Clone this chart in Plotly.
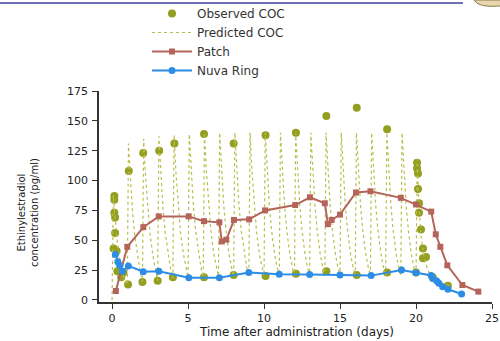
import plotly.graph_objects as go

# ---------------- data ----------------
obs_days = [0.1, 0.15, 0.15, 0.15, 0.2, 0.2, 0.3, 0.35, 0.6, 0.75,
            1.1, 1.05, 2.05, 2.0, 3.1, 3.0, 4.1, 4.0, 6.05, 6.05,
            8.0, 8.0, 10.1, 10.1, 12.1, 12.1, 14.1, 14.1, 16.1, 16.1,
            18.1, 18.1, 20.0, 20.07, 20.07, 20.13, 20.13, 20.2, 20.2, 20.33,
            20.46, 20.46, 20.66, 21.1, 22.1]
obs_conc = [43, 87, 84, 73, 69, 56, 41, 24, 19, 23,
            108, 13, 123, 15, 125, 16, 131, 19, 139, 19,
            131, 21, 138, 20, 140, 22, 154, 24, 161, 21,
            143, 23, 23, 115, 110, 106, 93, 81, 73, 59,
            43, 35, 36, 19, 12]

# predicted COC: dose days and concentration read at offsets (days) after each dose
pred_dose_days = list(range(0, 21))
pred_offsets = [0.0, 0.08, 0.2, 0.35, 0.5, 0.7, 0.85]
pred_cycles = [
    [0, 88, 68, 48, 35, 22, 16],
    [13, 131, 101, 73, 53, 35, 24],
    [15, 135, 104, 76, 55, 36, 25],
    [16, 137, 106, 77, 56, 37, 26],
    [18, 138, 107, 78, 57, 38, 27],
    [19, 139, 108, 79, 58, 38, 27],
    [19, 140, 109, 79, 58, 38, 28],
    [20, 140, 109, 79, 58, 38, 28],
    [20, 140, 109, 79, 58, 38, 28],
    [20, 140, 109, 79, 58, 38, 28],
    [20, 140, 109, 79, 58, 38, 28],
    [20, 140, 109, 79, 58, 38, 28],
    [20, 140, 109, 79, 58, 38, 28],
    [20, 140, 109, 79, 58, 38, 28],
    [20, 140, 109, 79, 58, 38, 28],
    [20, 140, 109, 79, 58, 38, 28],
    [20, 140, 109, 79, 58, 38, 28],
    [20, 140, 109, 79, 58, 38, 28],
    [20, 140, 109, 79, 58, 38, 28],
    [20, 140, 109, 79, 58, 38, 28],
    [20, 118, 78, 52, 38, 28, 23],
]
pred_tail_days = [21.0, 21.5, 22.2]
pred_tail_conc = [20, 15, 12]

patch_days = [0.25, 1.0, 2.06, 3.07, 5.04, 6.05, 7.06, 7.22, 7.52, 8.02, 9.02, 10.07,
              12.05, 13.02, 14.0, 14.2, 14.45, 15.0, 16.05, 17.0, 19.0, 20.0,
              21.0, 21.3, 21.6, 22.06, 23.05, 24.1]
patch_conc = [7.5, 44.5, 61, 70, 70, 66, 65, 49, 50.5, 67, 67.5, 75,
              79.5, 86, 81, 63.5, 67, 71.5, 90, 91, 85.5, 80,
              74, 55, 44.5, 29, 12.5, 7]

ring_days = [0.22, 0.38, 0.5, 0.68, 1.07, 2.05, 3.08, 5.05, 7.06, 9.0, 11.0,
             13.0, 15.0, 17.05, 19.05, 20.0, 21.0, 21.1, 21.35, 21.5, 21.75, 22.1, 23.0]
ring_conc = [38, 32, 29, 24, 28.5, 23.7, 24, 18.7, 18.7, 23, 21.5,
             21.3, 21, 20.4, 25, 22.7, 20.5, 18, 16, 14, 11, 9, 5]

x_ticks = [0, 5, 10, 15, 20, 25]
y_ticks = [0, 25, 50, 75, 100, 125, 150, 175]

# build predicted line from read values
pred_x, pred_y = [], []
for d, vals in zip(pred_dose_days, pred_cycles):
    for off, v in zip(pred_offsets, vals):
        pred_x.append(d + off)
        pred_y.append(v)
pred_x += pred_tail_days
pred_y += pred_tail_conc

OLIVE = "#939f1f"
OLIVE_LIGHT = "#babd4c"
BROWN = "#b5645a"
BLUE = "#2c8ce6"
FONT = "DejaVu Sans, Verdana, sans-serif"

# plot area in pixels
L, R, T, B = 99, 492, 91, 302
W, H = R - L, B - T


def px(xp):
    return (xp - L) / W


def py(yp):
    return (B - yp) / H


fig = go.Figure()
fig.add_trace(go.Scatter(x=obs_days, y=obs_conc, mode="markers", name="Observed COC",
                         marker=dict(color=OLIVE, size=8, line=dict(width=0))))
fig.add_trace(go.Scatter(x=pred_x, y=pred_y, mode="lines", name="Predicted COC",
                         line=dict(color=OLIVE_LIGHT, width=1.2, dash="dot")))
fig.add_trace(go.Scatter(x=patch_days, y=patch_conc, mode="lines+markers", name="Patch",
                         line=dict(color=BROWN, width=2),
                         marker=dict(symbol="square", size=6, color=BROWN)))
fig.add_trace(go.Scatter(x=ring_days, y=ring_conc, mode="lines+markers", name="Nuva Ring",
                         line=dict(color=BLUE, width=2),
                         marker=dict(symbol="circle", size=7, color=BLUE)))

fig.update_layout(
    width=500, height=341,
    margin=dict(l=L, r=500 - R, t=T, b=341 - B, autoexpand=False),
    paper_bgcolor="white", plot_bgcolor="white",
    font=dict(family=FONT, size=11, color="#222"),
    showlegend=True,
    legend=dict(x=px(147), y=py(-1), xanchor="left", yanchor="top",
                bgcolor="rgba(0,0,0,0)", font=dict(size=12, color="#333"),
                itemwidth=40, tracegroupgap=0),
    xaxis=dict(range=[-0.86, 25.0], tickvals=x_ticks, ticktext=[str(t) for t in x_ticks],
               showgrid=False, zeroline=False, showline=True, linecolor="#333", linewidth=1.5,
               ticks="outside", ticklen=5, tickcolor="#333", tickwidth=1,
               tickfont=dict(size=11, color="#222")),
    yaxis=dict(range=[-1.7, 175.0], tickvals=y_ticks, ticktext=[str(t) for t in y_ticks],
               showgrid=False, zeroline=False, showline=True, linecolor="#333", linewidth=1.5,
               ticks="outside", ticklen=5, tickcolor="#333", tickwidth=1,
               ticklabelstandoff=2,
               tickfont=dict(size=11, color="#222")),
    annotations=[
        dict(text="Time after administration (days)", xref="paper", yref="paper",
             x=px(296), y=py(332), xanchor="center", yanchor="middle",
             showarrow=False, font=dict(size=12, color="#222")),
        dict(text="Ethinylestradiol<br>concentration (pg/ml)", xref="paper", yref="paper",
             x=px(28), y=py(213), xanchor="center", yanchor="middle",
             textangle=-90, showarrow=False, font=dict(size=10, color="#222")),
    ],
    shapes=[
        dict(type="line", xref="paper", yref="paper", layer="above",
             x0=px(0), x1=px(463), y0=py(3), y1=py(3),
             line=dict(color="#6f6fb3", width=2)),
        dict(type="path", xref="paper", yref="paper", layer="above",
             path="M {a},{b} Q {c},{d} {e},{f} L {g},{f} L {g},{b} Z".format(
                 a=px(474), b=py(0), c=px(478), d=py(8), e=px(500), f=py(6), g=px(501)),
             fillcolor="#e9d5ab", line=dict(color="#8a7a55", width=1)),
    ],
)

fig.write_html("out.html", config={"displayModeBar": False},
               post_script="document.body.style.margin='0';document.body.style.padding='0';")
